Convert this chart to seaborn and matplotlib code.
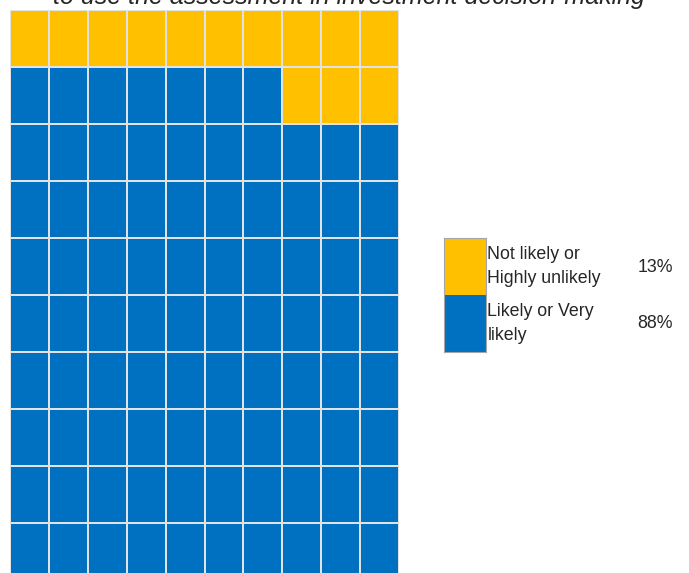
import numpy as np
import seaborn as sns
import matplotlib.pyplot as plt
from matplotlib.colors import ListedColormap

# data
categories = ["Not likely or\nHighly unlikely", "Likely or Very\nlikely"]
counts = [13, 87]
pct_labels = ["13%", "88%"]
colors = ["#FFC000", "#0070C0"]
n_rows, n_cols = 10, 10
title_line = "to use the assessment in investment decision-making"

sns.set_theme(style="white")
plt.rcParams['font.family'] = ['Liberation Sans', 'DejaVu Sans']

# fill the waffle: first category from the top right, row by row
cells = np.repeat(np.arange(len(counts)), counts)
grid = cells.reshape(n_rows, n_cols)
grid = grid[:, ::-1]

W, H = 689, 573
fig = plt.figure(figsize=(W / 100, H / 100), dpi=100)

ax = fig.add_axes([10 / W, (H - 580) / H, 389 / W, 570 / H])
cmap = ListedColormap(colors)
sns.heatmap(grid, ax=ax, cmap=cmap, vmin=-0.5, vmax=len(colors) - 0.5,
            cbar=False, linewidths=1.3, linecolor="#e2e2e2",
            xticklabels=False, yticklabels=False, square=False)

# legend drawn as a tiny heatmap
lax = fig.add_axes([444 / W, (H - 352) / H, 42 / W, 114 / H])
sns.heatmap(np.arange(len(counts)).reshape(-1, 1), ax=lax, cmap=cmap,
            vmin=-0.5, vmax=len(colors) - 0.5, cbar=False,
            linewidths=0, xticklabels=False, yticklabels=False)
for s in lax.spines.values():
    s.set_visible(True)
    s.set_color("#a6a6a6")
    s.set_linewidth(0.8)

for i, (lab, pct) in enumerate(zip(categories, pct_labels)):
    lax.text(1.03, i + 0.5, lab, ha="left", va="center", fontsize=12.8,
             color="#262626", linespacing=1.5, transform=lax.transData,
             clip_on=False)
    fig.text(673 / W, 1 - (267 + 57 * i) / H, pct, ha="right", va="center",
             fontsize=12.8, color="#262626")

fig.text(349 / W, 1 - 4 / H, title_line, ha="center", va="baseline",
         fontsize=18, style="italic", color="#262626")

fig.savefig("out.png", dpi=100)
